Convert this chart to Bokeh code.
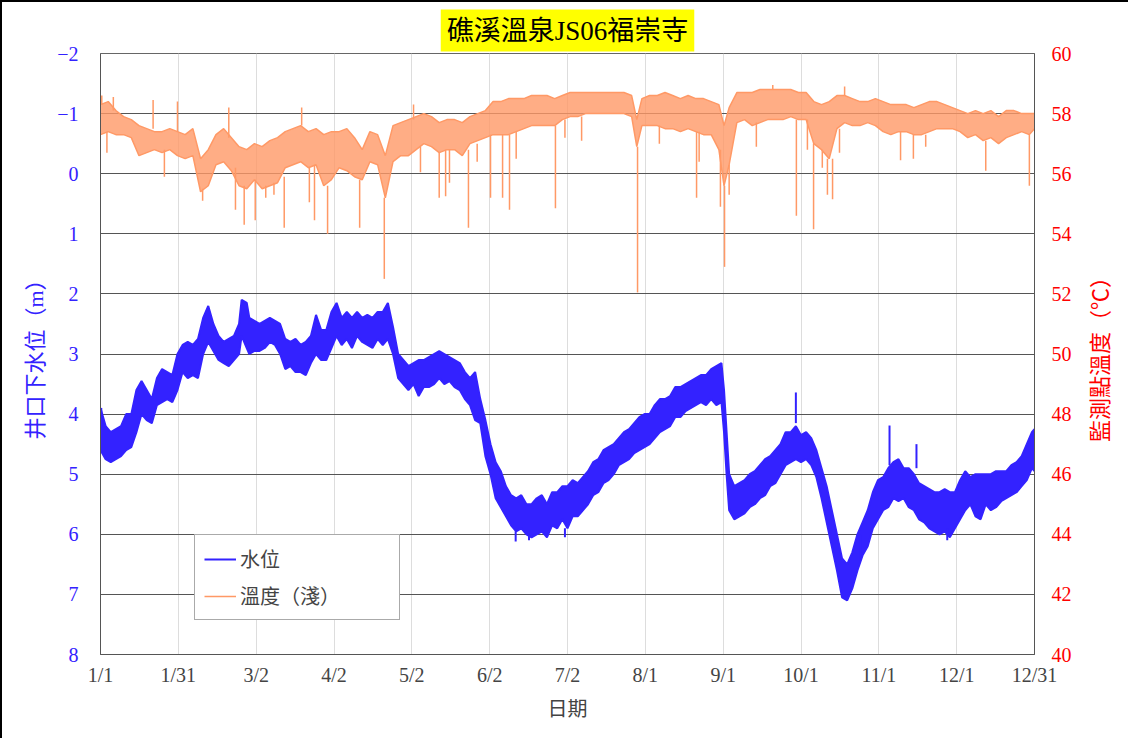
import numpy as np
from bokeh.plotting import figure
from bokeh.layouts import row
from bokeh.models import (Range1d, LinearAxis, FixedTicker, Legend, LegendItem, Title)
from bokeh.embed import file_html
from bokeh.resources import INLINE

# ---------------- data ----------------
x_tick_labels = ["1/1", "1/31", "3/2", "4/2", "5/2", "6/2", "7/2", "8/1",
                 "9/1", "10/1", "11/1", "12/1", "12/31"]

# water level below well head (m): day of year, shallow envelope, deep envelope
wl_day = [0, 2, 4, 6, 8, 10, 12, 14, 16, 18, 20, 22, 24, 26, 28, 30, 32, 34, 36, 38,
          40, 42, 44, 46, 48, 50, 52, 54, 55, 57, 58, 60, 62, 64, 66, 68, 70, 72, 74, 76,
          78, 80, 82, 84, 86, 88, 90, 92, 94, 96, 98, 100, 102, 104, 106, 108, 110, 112, 114, 116,
          118, 120, 122, 124, 126, 128, 130, 132, 134, 136, 138, 140, 142, 144, 146, 148, 150, 152, 154, 156,
          158, 160, 162, 164, 166, 168, 170, 172, 174, 176, 178, 180, 182, 184, 186, 188, 190, 192, 194, 196,
          198, 200, 202, 204, 206, 208, 210, 212, 214, 216, 218, 220, 222, 224, 226, 228, 230, 232, 234, 236,
          238, 240, 242, 243, 244, 245, 247, 249, 251, 253, 255, 257, 259, 261, 263, 265, 267, 269, 271, 273,
          275, 277, 279, 281, 283, 285, 287, 289, 291, 293, 295, 297, 299, 301, 303, 305, 307, 309, 311, 313,
          315, 317, 319, 321, 323, 325, 327, 329, 331, 333, 335, 337, 339, 341, 343, 345, 347, 349, 351, 353,
          355, 357, 359, 361, 363, 364]
wl_top = [3.9, 4.2, 4.3, 4.25, 4.2, 4.0, 4.0, 3.6, 3.45, 3.6, 3.75, 3.4, 3.25, 3.3, 3.35, 3.0, 2.85, 2.8, 2.85, 2.75,
          2.4, 2.2, 2.5, 2.7, 2.8, 2.75, 2.7, 2.5, 2.1, 2.15, 2.4, 2.45, 2.5, 2.45, 2.4, 2.45, 2.5, 2.75, 2.8, 2.75,
          2.85, 2.8, 2.7, 2.35, 2.6, 2.6, 2.3, 2.15, 2.4, 2.3, 2.4, 2.3, 2.4, 2.35, 2.4, 2.3, 2.3, 2.15, 2.55, 3.0,
          3.1, 3.2, 3.15, 3.1, 3.1, 3.05, 3.0, 2.95, 3.0, 3.05, 3.1, 3.15, 3.3, 3.4, 3.3, 3.75, 4.1, 4.5, 4.8, 4.95,
          5.2, 5.35, 5.4, 5.35, 5.5, 5.5, 5.4, 5.35, 5.5, 5.3, 5.3, 5.2, 5.2, 5.1, 5.15, 5.05, 4.95, 4.8, 4.75, 4.6,
          4.55, 4.5, 4.4, 4.3, 4.25, 4.15, 4.05, 4.0, 4.0, 3.85, 3.75, 3.75, 3.7, 3.55, 3.55, 3.5, 3.45, 3.4, 3.35, 3.35,
          3.25, 3.2, 3.15, 3.6, 4.3, 5.0, 5.2, 5.15, 5.1, 5.0, 4.95, 4.85, 4.75, 4.7, 4.6, 4.5, 4.3, 4.3, 4.2, 4.35,
          4.3, 4.4, 4.6, 4.9, 5.2, 5.6, 6.0, 6.4, 6.5, 6.3, 6.0, 5.8, 5.6, 5.3, 5.1, 5.05, 4.9, 4.8, 4.75, 4.9,
          4.9, 5.0, 5.15, 5.2, 5.25, 5.3, 5.3, 5.25, 5.3, 5.3, 5.1, 4.95, 5.05, 5.0, 5.0, 5.0, 5.0, 4.95, 4.95, 4.95,
          4.85, 4.8, 4.7, 4.5, 4.3, 4.25]
wl_bot = [4.6, 4.75, 4.8, 4.75, 4.7, 4.6, 4.55, 4.3, 4.0, 4.1, 4.15, 3.85, 3.8, 3.75, 3.8, 3.6, 3.3, 3.4, 3.35, 3.4,
          3.0, 2.8, 2.95, 3.1, 3.15, 3.2, 3.1, 3.0, 2.7, 2.9, 3.0, 2.95, 2.95, 2.9, 2.8, 2.85, 3.0, 3.25, 3.2, 3.3,
          3.3, 3.35, 3.15, 3.0, 3.1, 3.1, 2.9, 2.7, 2.85, 2.75, 2.9, 2.7, 2.8, 2.85, 2.9, 2.75, 2.85, 2.75, 3.0, 3.4,
          3.5, 3.6, 3.5, 3.7, 3.55, 3.55, 3.5, 3.4, 3.5, 3.45, 3.55, 3.6, 3.75, 3.85, 4.1, 4.15, 4.7, 5.0, 5.4, 5.55,
          5.7, 5.85, 5.95, 5.9, 6.0, 6.05, 6.0, 5.95, 6.05, 5.85, 5.9, 5.75, 5.9, 5.7, 5.7, 5.6, 5.5, 5.35, 5.3, 5.15,
          5.1, 5.0, 4.85, 4.8, 4.75, 4.65, 4.6, 4.55, 4.5, 4.4, 4.3, 4.25, 4.2, 4.05, 4.05, 3.95, 3.9, 3.85, 3.8, 3.85,
          3.75, 3.85, 3.8, 4.3, 5.0, 5.6, 5.75, 5.7, 5.65, 5.55, 5.5, 5.4, 5.35, 5.2, 5.15, 5.0, 4.85, 4.8, 4.75, 4.8,
          4.75, 4.85, 5.05, 5.4, 5.8, 6.2, 6.6, 7.05, 7.1, 6.9, 6.6, 6.35, 6.2, 5.9, 5.75, 5.6, 5.55, 5.4, 5.45, 5.4,
          5.55, 5.6, 5.75, 5.8, 5.9, 5.95, 6.0, 5.95, 6.05, 5.9, 5.75, 5.6, 5.5, 5.7, 5.75, 5.5, 5.6, 5.55, 5.45, 5.4,
          5.35, 5.3, 5.2, 5.1, 4.9, 4.95]
# short water-level excursions: day, band edge, tip
wl_spike_day = [0.3, 161.8, 167.0, 181.0, 271.0, 307.5, 318.0, 296.0, 330.0]
wl_spike_from = [4.2, 5.95, 6.0, 5.9, 4.15, 4.85, 4.9, 6.0, 5.9]
wl_spike_to = [3.9, 6.12, 6.1, 6.05, 3.64, 4.19, 4.5, 6.4, 6.1]

# shallow temperature (deg C): day of year, lower envelope, upper envelope
t_day = [0, 3, 6, 9, 12, 15, 18, 21, 24, 27, 30, 33, 36, 39, 42, 45, 48, 51, 54, 57,
         60, 63, 66, 69, 72, 75, 78, 81, 84, 87, 90, 93, 96, 99, 102, 105, 108, 111, 114, 117,
         120, 123, 126, 129, 132, 135, 138, 141, 144, 147, 150, 153, 156, 159, 162, 165, 168, 171, 174, 177,
         180, 183, 186, 189, 192, 195, 198, 201, 204, 207, 209, 211, 214, 217, 220, 223, 226, 229, 232, 235,
         238, 241, 243, 245, 248, 251, 254, 257, 260, 263, 266, 269, 272, 275, 278, 281, 284, 287, 290, 293,
         296, 299, 302, 305, 308, 311, 314, 317, 320, 323, 326, 329, 332, 335, 338, 341, 344, 347, 350, 353,
         356, 359, 362, 364]
t_lo = [57.3, 57.4, 57.3, 57.3, 57.2, 56.6, 56.7, 56.8, 56.7, 56.8, 56.6, 56.5, 56.6, 55.4, 55.6, 56.3, 56.4, 56.1, 55.6, 55.5,
        55.8, 55.5, 55.6, 55.7, 56.2, 56.3, 56.4, 56.2, 56.3, 55.6, 55.8, 56.2, 56.1, 55.9, 55.8, 56.4, 56.3, 55.2, 56.4, 56.6,
        56.6, 56.8, 57.0, 56.9, 56.7, 56.8, 56.8, 56.6, 57.0, 57.1, 57.2, 57.3, 57.3, 57.3, 57.4, 57.5, 57.6, 57.6, 57.6, 57.6,
        57.8, 57.9, 57.9, 58.0, 58.0, 58.0, 58.0, 58.0, 58.0, 57.9, 56.9, 57.6, 57.6, 57.6, 57.5, 57.5, 57.4, 57.5, 57.4, 57.3,
        57.3, 56.8, 55.6, 56.3, 57.7, 57.8, 57.6, 57.7, 57.8, 57.8, 57.8, 57.9, 57.8, 57.8, 57.0, 56.8, 56.5, 57.5, 57.7, 57.6,
        57.6, 57.7, 57.6, 57.4, 57.3, 57.4, 57.4, 57.3, 57.3, 57.4, 57.5, 57.5, 57.5, 57.4, 57.2, 57.3, 57.1, 57.2, 57.0, 57.2,
        57.3, 57.4, 57.3, 57.5]
t_hi = [58.3, 58.4, 58.1, 57.9, 57.8, 57.6, 57.5, 57.4, 57.4, 57.5, 57.4, 57.3, 57.5, 56.5, 56.8, 57.3, 57.5, 57.2, 56.9, 56.8,
        57.0, 56.9, 57.1, 57.2, 57.4, 57.5, 57.6, 57.4, 57.5, 57.3, 57.4, 57.4, 57.5, 57.2, 56.8, 57.4, 57.3, 56.6, 57.6, 57.7,
        57.8, 57.9, 58.0, 57.9, 57.7, 57.8, 57.8, 57.7, 57.9, 58.0, 58.1, 58.4, 58.4, 58.5, 58.5, 58.5, 58.6, 58.6, 58.6, 58.5,
        58.6, 58.7, 58.7, 58.7, 58.7, 58.7, 58.7, 58.7, 58.7, 58.6, 57.8, 58.5, 58.6, 58.6, 58.7, 58.6, 58.5, 58.6, 58.5, 58.5,
        58.4, 58.3, 57.6, 58.2, 58.7, 58.7, 58.7, 58.8, 58.8, 58.8, 58.8, 58.8, 58.7, 58.7, 58.4, 58.3, 58.4, 58.6, 58.6, 58.5,
        58.4, 58.4, 58.5, 58.4, 58.3, 58.3, 58.3, 58.2, 58.3, 58.4, 58.4, 58.3, 58.2, 58.1, 58.0, 58.1, 58.0, 58.1, 57.9, 58.1,
        58.1, 58.0, 58.0, 58.0]
# short temperature excursions: day, band edge, tip
t_spike_day = [2.5, 24.9, 39.8, 52.6, 56.0, 60.3, 64.4, 67.6, 71.6, 81.4, 83.4, 88.5, 101.0, 110.6, 124.7, 132.0,
               134.5, 136.0, 143.4, 146.8, 152.0, 156.7, 159.4, 162.0, 177.3, 181.0, 187.5, 209.3, 217.8, 232.3,
               233.3, 241.6, 243.2, 245.0, 255.6, 271.2, 275.5, 277.9, 281.3, 283.3, 285.3, 288.0, 311.8, 316.8,
               321.6, 345.0, 362.0, 0.5, 5.0, 20.5, 30.0, 50.0, 78.4, 122.0, 262.0, 290.0]
t_spike_from = [57.4, 56.8, 55.5, 56.2, 55.6, 55.8, 55.6, 55.7, 55.9, 56.2, 56.3, 55.6, 55.8, 55.2, 56.9, 56.7,
                56.8, 56.8, 56.8, 57.0, 57.3, 57.3, 57.3, 57.4, 57.6, 57.8, 57.9, 56.9, 57.6, 57.4,
                57.4, 56.8, 55.6, 56.3, 57.7, 57.8, 57.8, 57.0, 56.8, 56.5, 56.5, 57.5, 57.4, 57.3,
                57.3, 57.1, 57.3, 58.3, 58.1, 57.5, 57.4, 57.2, 57.6, 57.8, 58.8, 58.6]
t_spike_to = [56.7, 55.9, 55.1, 54.8, 54.3, 54.45, 55.2, 55.3, 54.2, 55.05, 54.45, 54.0, 54.2, 52.5, 56.05, 55.2,
              55.25, 55.7, 54.2, 56.4, 55.2, 55.2, 54.8, 56.5, 54.85, 57.2, 57.1, 52.05, 57.0, 55.2,
              56.4, 54.9, 52.9, 55.3, 56.9, 54.6, 56.8, 54.15, 56.2, 55.3, 55.15, 56.7, 56.45, 56.5,
              56.9, 56.1, 55.6, 58.6, 58.55, 58.45, 58.4, 58.2, 58.2, 58.3, 58.95, 58.9]

# ---------------- styling ----------------
BLUE = "#3322FF"
ORANGE = "#FF9966"
SERIF = "'Liberation Serif', 'Noto Sans CJK TC', serif"
X_MIN, X_MAX = 0, 364
T_MIN, T_MAX = 40, 60

x_ticks = [i * X_MAX / 12 for i in range(len(x_tick_labels))]

p = figure(width=1082, height=738, output_backend="svg", toolbar_location=None,
           x_range=Range1d(X_MIN, X_MAX), y_range=Range1d(8, -2),
           min_border_left=98, min_border_right=50, min_border_top=51, min_border_bottom=86)
p.styles = {"border-left": "2px solid black", "border-top": "2px solid black"}
p.extra_y_ranges = {"temp": Range1d(T_MIN, T_MAX)}
p.background_fill_color = "white"
p.border_fill_color = "white"
p.outline_line_color = "#666666"

title = Title(text="礁溪溫泉JS06福崇寺", align="center", text_font=SERIF, text_font_size="27px",
              text_font_style="normal", text_color="black", background_fill_color="#FFFF00",
              standoff=4, padding=6)
p.title = title

# grids
p.ygrid.ticker = FixedTicker(ticks=list(range(-2, 9)))
p.ygrid.grid_line_color = "#555555"
p.ygrid.grid_line_width = 1
p.xgrid.ticker = FixedTicker(ticks=x_ticks)
p.xgrid.grid_line_color = "#DDDDDD"
p.xgrid.grid_line_width = 1

# x axis
xa = p.xaxis[0]
xa.ticker = FixedTicker(ticks=x_ticks)
xa.major_label_overrides = {t: lab for t, lab in zip(x_ticks, x_tick_labels)}
xa.axis_label = "日期"
xa.axis_label_text_font = SERIF
xa.axis_label_text_font_size = "20px"
xa.axis_label_text_font_style = "normal"
xa.axis_label_standoff = 9
xa.major_label_text_font = SERIF
xa.major_label_text_font_size = "20px"
xa.major_label_standoff = 3
xa.axis_line_color = "#555555"
xa.major_tick_line_color = None
xa.minor_tick_line_color = None

# left axis
ya = p.yaxis[0]
ya.ticker = FixedTicker(ticks=list(range(-2, 9)))
ya.major_label_overrides = {-2: "−2", -1: "−1"}
ya.axis_label = "井口下水位（m）"
ya.axis_label_text_color = BLUE
ya.axis_label_text_font = SERIF
ya.axis_label_text_font_size = "22px"
ya.axis_label_text_font_style = "normal"
ya.axis_label_standoff = 6
ya.major_label_text_color = BLUE
ya.major_label_text_font = SERIF
ya.major_label_text_font_size = "20px"
ya.major_label_standoff = 16
ya.axis_line_color = "#555555"
ya.major_tick_line_color = None
ya.minor_tick_line_color = None

# right axis (numbers); its title sits in a narrow strip to the right
ra = LinearAxis(y_range_name="temp", ticker=FixedTicker(ticks=list(range(T_MIN, T_MAX + 1, 2))))
ra.major_label_text_color = "#FF0000"
ra.major_label_text_font = SERIF
ra.major_label_text_font_size = "20px"
ra.major_label_standoff = 11
ra.axis_line_color = "#555555"
ra.major_tick_line_color = None
ra.minor_tick_line_color = None
p.add_layout(ra, "right")

# temperature series
p.varea(x=t_day, y1=t_lo, y2=t_hi, fill_color=ORANGE, fill_alpha=0.8, y_range_name="temp")
t_line = p.line(t_day, t_hi, line_color=ORANGE, line_width=1.5, y_range_name="temp")
p.line(t_day, t_lo, line_color=ORANGE, line_width=1.5, y_range_name="temp")
p.segment(x0=t_spike_day, y0=t_spike_from, x1=t_spike_day, y1=t_spike_to,
          line_color=ORANGE, line_width=1.5, y_range_name="temp")

# water level series
p.varea(x=wl_day, y1=wl_top, y2=wl_bot, fill_color=BLUE)
wl_line = p.line(wl_day, wl_top, line_color=BLUE, line_width=2)
p.line(wl_day, wl_bot, line_color=BLUE, line_width=2)
p.segment(x0=wl_spike_day, y0=wl_spike_from, x1=wl_spike_day, y1=wl_spike_to,
          line_color=BLUE, line_width=2)

legend = Legend(items=[LegendItem(label="水位", renderers=[wl_line]),
                       LegendItem(label="溫度（淺）", renderers=[t_line])],
                location=(94, 34), orientation="vertical",
                label_text_font=SERIF, label_text_font_size="20px",
                glyph_width=32, glyph_height=26, label_height=26, label_width=150,
                spacing=8, padding=9, margin=0, label_standoff=4,
                border_line_color="#555555", border_line_width=1,
                background_fill_color="white", background_fill_alpha=1)
p.add_layout(legend)

# narrow strip carrying the right-hand axis title (reads bottom-to-top)
p2 = figure(width=46, height=738, output_backend="svg", toolbar_location=None, title=None,
            x_range=Range1d(0, 1), y_range=Range1d(T_MIN, T_MAX),
            min_border_left=30, min_border_right=12, min_border_top=51, min_border_bottom=86)
p2.styles = {"border-top": "2px solid black"}
p2.xaxis.visible = False
p2.yaxis.visible = False
p2.xgrid.visible = False
p2.ygrid.visible = False
p2.outline_line_color = None
p2.background_fill_color = "white"
p2.border_fill_color = "white"
p2.add_layout(Title(text="監測點溫度（℃）", align="center", text_color="#FF0000",
                    text_font=SERIF, text_font_size="22px", text_font_style="normal",
                    standoff=0), "left")

layout = row(p, p2, spacing=0)
open("out.html", "w").write(file_html(layout, INLINE))
